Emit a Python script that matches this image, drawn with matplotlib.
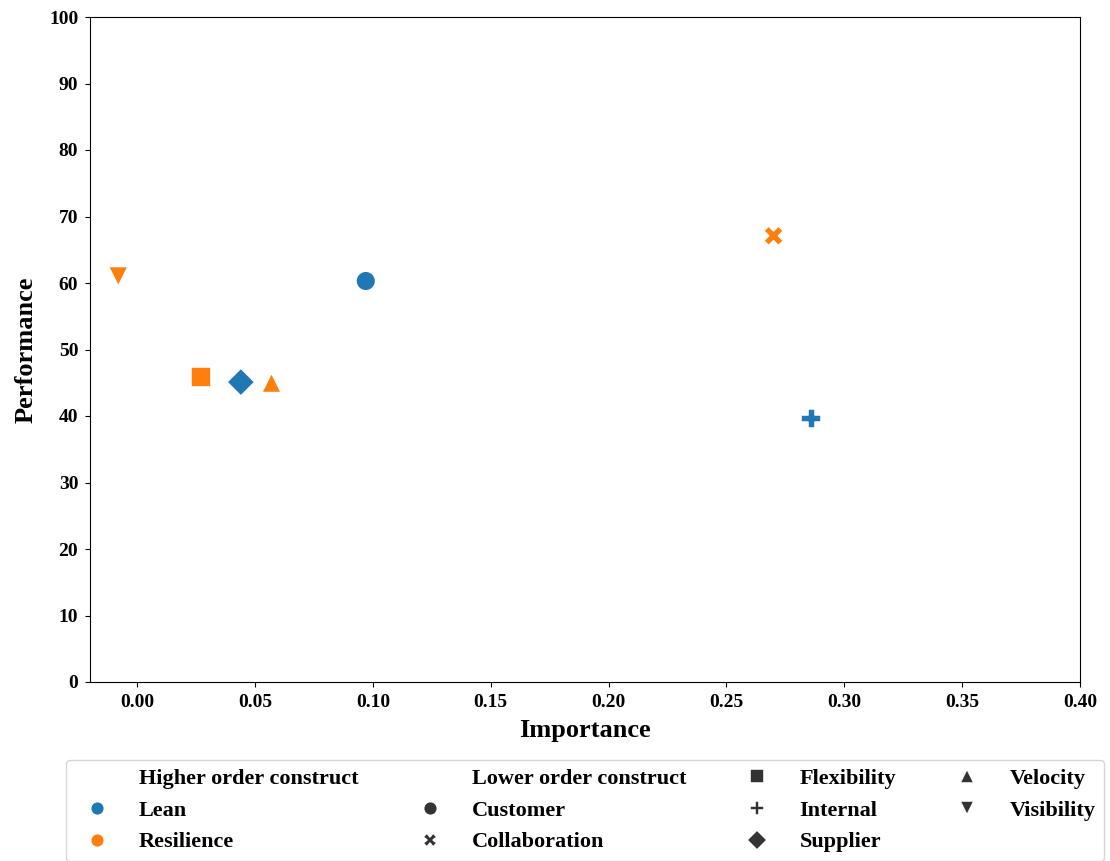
import matplotlib
matplotlib.use("Agg")
import matplotlib.pyplot as plt
import pandas as pd
import seaborn as sns

plt.rcParams['font.family'] = ['Liberation Serif', 'DejaVu Serif']
plt.rcParams['font.weight'] = 'bold'

# importance-performance values per lower order construct
lower = ['Customer', 'Collaboration', 'Flexibility', 'Internal', 'Supplier', 'Velocity', 'Visibility']
higher = ['Lean', 'Resilience', 'Resilience', 'Lean', 'Lean', 'Resilience', 'Resilience']
importance = [0.097, 0.270, 0.027, 0.286, 0.044, 0.057, -0.008]
performance = [60.3, 67.1, 45.9, 39.6, 45.1, 45.0, 61.0]

df = pd.DataFrame({
    'Importance': importance,
    'Performance': performance,
    'Higher order construct': higher,
    'Lower order construct': lower,
})

markers = dict(zip(lower, ['o', 'X', 's', 'P', 'D', '^', 'v']))

fig, ax = plt.subplots(figsize=(11.1, 8.61), dpi=100)
fig.subplots_adjust(left=90 / 1110, right=1080 / 1110, top=1 - 17 / 861, bottom=1 - 682 / 861)

sns.scatterplot(data=df, x='Importance', y='Performance',
                hue='Higher order construct', style='Lower order construct',
                markers=markers, s=200, ax=ax)

ax.set_xlim(-0.02, 0.40)
ax.set_ylim(0, 100)
ax.set_yticks(range(0, 101, 10))
ax.set_xlabel('Importance', fontsize=19, fontweight='bold', labelpad=6)
ax.set_ylabel('Performance', fontsize=19, fontweight='bold', labelpad=8)
ax.tick_params(labelsize=14, pad=5)
for lab in ax.get_xticklabels() + ax.get_yticklabels():
    lab.set_fontweight('bold')

ax.legend(loc='upper center', bbox_to_anchor=(0.5, -0.1), ncol=4,
          prop={'size': 16, 'weight': 'bold'}, markerscale=0.7,
          columnspacing=2.2, handletextpad=0.9, labelspacing=0.5,
          borderpad=0.4)

fig.savefig('out.png', dpi=100)
